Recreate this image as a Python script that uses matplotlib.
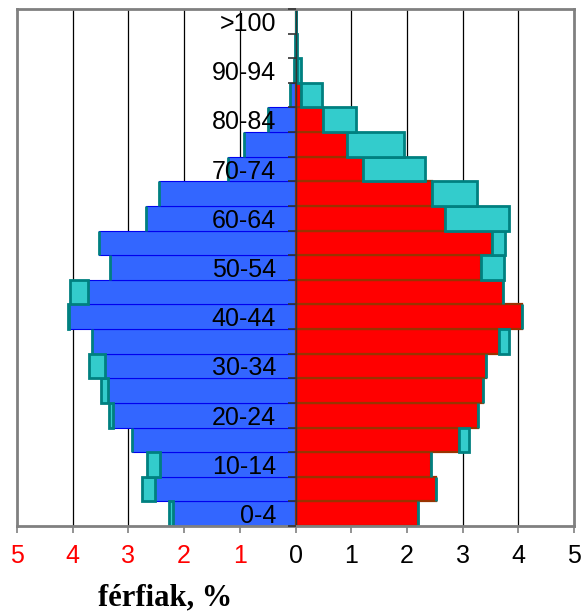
import numpy as np
import matplotlib
matplotlib.use("Agg")
from matplotlib import pyplot as plt

matplotlib.rcParams.update({'font.family': 'Liberation Sans', 'font.size': 18})

ages = ['0-4', '5-9', '10-14', '15-19', '20-24', '25-29', '30-34', '35-39',
        '40-44', '45-49', '50-54', '55-59', '60-64', '65-69', '70-74',
        '75-79', '80-84', '85-89', '90-94', '95-99', '>100']
male = [2.28, 2.75, 2.67, 2.94, 3.35, 3.50, 3.71, 3.65, 4.08, 4.04, 3.33,
        3.53, 2.68, 2.45, 1.21, 0.92, 0.49, 0.10, 0.02, 0.005, 0.0]
female = [2.20, 2.52, 2.43, 3.11, 3.28, 3.37, 3.42, 3.83, 4.06, 3.72, 3.74,
          3.77, 3.84, 3.26, 2.32, 1.94, 1.09, 0.48, 0.09, 0.02, 0.01]
xticks = [-5, -4, -3, -2, -1, 0, 1, 2, 3, 4, 5]

male = np.array(male)
female = np.array(female)
common = np.minimum(male, female)
y = np.arange(len(ages))

fig = plt.figure(figsize=(5.82, 6.15), dpi=100)
ax = fig.add_axes([17/582, 1 - 526/615, 557/582, 517/615])

# grid behind the bars
for gx in xticks[1:-1]:
    if gx != 0:
        ax.axvline(gx, color='black', lw=0.9, zorder=0.5)

# common part
ax.barh(y, -common, height=1.0, color='#3366FF', edgecolor='#0000EE', lw=0.8, zorder=1)
ax.barh(y, common, height=1.0, color='#FF0000', edgecolor='#993300', lw=1.6, zorder=1)
# surplus
m_ex = np.clip(male - female, 0, None)
f_ex = np.clip(female - male, 0, None)
ax.barh(y, -m_ex, left=-common, height=1.0, color='#33CCCC', edgecolor='#008080', lw=2, zorder=1.2)
ax.barh(y, f_ex, left=common, height=1.0, color='#33CCCC', edgecolor='#008080', lw=2, zorder=1.2)

ax.set_xlim(-5, 5)
ax.set_ylim(-0.5, len(ages) - 0.5)
ax.set_axisbelow(False)

for s in ['top', 'right', 'bottom']:
    ax.spines[s].set_color('#808080')
    ax.spines[s].set_linewidth(2)
ax.spines['left'].set_position(('data', 0))
ax.spines['left'].set_color('#333333')
ax.spines['left'].set_linewidth(1)
ax.axvline(-5, color='#808080', lw=2, clip_on=False, zorder=3)

ax.set_xticks(xticks)
ax.set_xticklabels([str(abs(v)) for v in xticks])
for lab, v in zip(ax.get_xticklabels(), xticks):
    lab.set_color('red' if v < 0 else 'black')
ax.tick_params(axis='x', direction='out', length=5, width=1.2, color='#808080', pad=8)

ax.set_yticks(np.arange(-0.5, len(ages), 1.0))
ax.set_yticklabels([])
ax.tick_params(axis='y', which='major', direction='out', length=6, width=1.2, color='#333333')
ax.set_yticks(y[::2], minor=True)
ax.set_yticklabels(ages[::2], minor=True)
ax.tick_params(axis='y', which='minor', length=0, pad=14)

fig.text(165/582, 1 - 598/615, 'férfiak, %', family='Liberation Serif',
         fontweight='bold', fontsize=22, ha='center', va='center')

fig.savefig('out.png', dpi=100)
